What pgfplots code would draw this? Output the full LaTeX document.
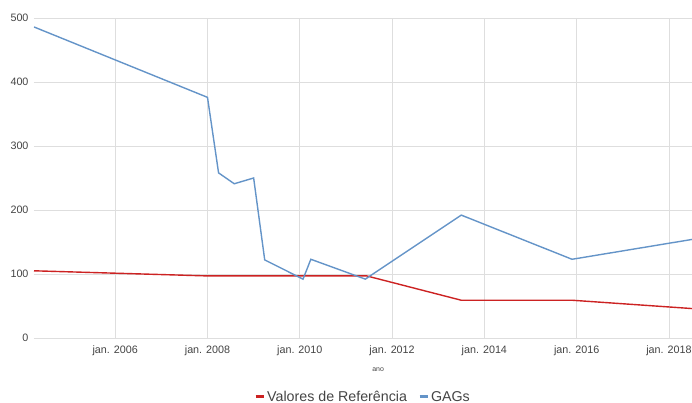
\documentclass[border=0pt]{standalone}
\usepackage{pgfplots}
\pgfplotsset{compat=1.18}
\usepackage{fontspec}
\setmainfont{Liberation Sans}
\definecolor{refred}{RGB}{204,34,34}
\definecolor{gagblue}{RGB}{100,148,200}
\definecolor{gridgray}{RGB}{222,222,222}
\definecolor{ticktext}{RGB}{68,68,68}
\begin{document}
\begin{tikzpicture}
\begin{axis}[
  at={(0,0)}, anchor=south west,
  scale only axis,
  width=658bp, height=320bp,
  xmin=2004.24, xmax=2018.5,
  ymin=0, ymax=500,
  axis line style={draw=none},
  xtick={2006,2008,2010,2012,2014,2016,2018},
  xticklabels={jan. 2006,jan. 2008,jan. 2010,jan. 2012,jan. 2014,jan. 2016,jan. 2018},
  ytick={0,100,200,300,400,500},
  major tick length=0pt,
  grid=major,
  major grid style={draw=gridgray, line width=0.8pt},
  ticklabel style={font=\fontsize{10.8}{12}\selectfont, text=ticktext},
  yticklabel style={xshift=-2bp},
  xticklabel style={yshift=-4bp},
  /pgf/number format/assume math mode=true,
  xlabel={ano},
  xlabel style={font=\fontsize{7}{8}\selectfont, text=ticktext, at={(axis description cs:0.523,-0.1)}, anchor=center},
  legend columns=2,
  legend style={draw=none, fill=none, at={(axis description cs:0.5,-0.184)}, anchor=center,
    font=\fontsize{14.3}{16}\selectfont, text=ticktext,
    /tikz/every even column/.append style={column sep=9bp}},
  legend image code/.code={\draw[line width=3bp, #1] (0bp,0bp) -- (8bp,0bp);},
]
\draw[color=gray!80, line width=0.8pt] (axis cs:2004.24,0) -- (axis cs:2018.5,0);
\addplot[refred, line width=1.4bp] coordinates {
  (2004.24,105) (2008.0,97) (2011.45,97) (2013.5,59) (2015.9,59) (2018.5,46)
};
\addlegendentry{Valores de Referência}
\addplot[gagblue, line width=1.4bp] coordinates {
  (2004.24,486) (2008.0,376) (2008.24,258) (2008.58,241) (2009.0,250)
  (2009.24,122) (2010.07,92) (2010.24,123) (2011.42,92) (2013.5,192)
  (2015.9,123) (2018.5,154)
};
\addlegendentry{GAGs}
\end{axis}
\pgfresetboundingbox
\path[use as bounding box] (-34bp,-65bp) rectangle (658bp,338bp);
\end{tikzpicture}
\end{document}
